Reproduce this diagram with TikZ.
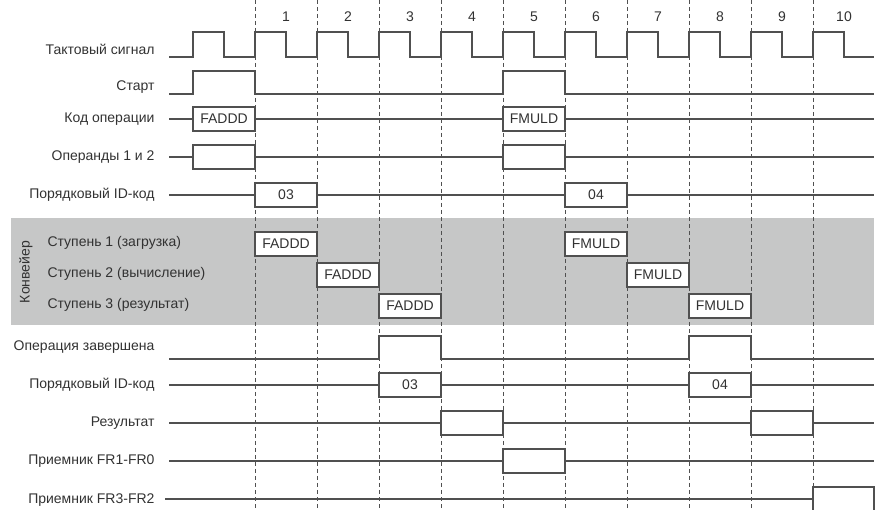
\documentclass[tikz,border=0pt]{standalone}
\usepackage{fontspec}
\setmainfont{Liberation Sans}
\usepackage{xcolor}
\usepackage{tikz}
\usetikzlibrary{positioning}
\definecolor{band}{RGB}{198,199,199}
\definecolor{wire}{RGB}{80,80,80}
\definecolor{txt}{RGB}{50,50,50}

\begin{document}
\begin{tikzpicture}[
    x=1pt, y=-1pt,
    every node/.style={font=\fontsize{14}{16}\selectfont, text=txt},
    sig/.style={draw=wire, line width=1.2pt},
    grid/.style={draw=wire, line width=0.8pt, dash pattern=on 4pt off 3pt},
    cell/.style={rectangle, draw=wire, line width=1.2pt, fill=white,
                 minimum width=62pt, minimum height=24pt, inner sep=0pt},
    lbl/.style={anchor=east},
    stage/.style={anchor=west}
]
    \useasboundingbox (0,0) rectangle (881,510);
    % conveyor band
    \fill[band] (11,218) rectangle (874,325);
    \node[rotate=90] (conv) at (26,272) {Конвейер};
    \node[stage] (st1) at (44,243) {Ступень 1 (загрузка)};
    \node[stage] (st2) at (44,274) {Ступень 2 (вычисление)};
    \node[stage] (st3) at (44,305) {Ступень 3 (результат)};

    % clock cycles
    \foreach \k in {1,...,10} {
        \draw[grid] ({255+62*(\k-1)},0) -- ({255+62*(\k-1)},510);
        \node (n\k) at ({286+62*(\k-1)},17) {\k};
    }

    % signal names
    \node[lbl] (clk) at (158,49) {Тактовый сигнал};
    \node[lbl] (start) at (158,87) {Старт};
    \node[lbl] (opc) at (158,119) {Код операции};
    \node[lbl] (opd) at (158,157) {Операнды 1 и 2};
    \node[lbl] (idin) at (158,195) {Порядковый ID-код};
    \node[lbl] (done) at (158,347) {Операция завершена};
    \node[lbl] (idout) at (158,385) {Порядковый ID-код};
    \node[lbl] (res) at (158,423) {Результат};
    \node[lbl] (fra) at (158,461) {Приемник FR1-FR0};
    \node[lbl] (frb) at (158,500) {Приемник FR3-FR2};

    % waveforms
    \draw[sig] (169,57) foreach \k in {0,...,10} {
        -- ({193+62*\k},57) -- ({193+62*\k},32) -- ({224+62*\k},32) -- ({224+62*\k},57)
    } -- (874,57);
    \draw[sig] (169,94) -- (193,94) -- (193,71) -- (255,71) -- (255,94)
        -- (503,94) -- (503,71) -- (565,71) -- (565,94) -- (874,94);
    \draw[sig] (169,359) -- (379,359) -- (379,336) -- (441,336) -- (441,359)
        -- (689,359) -- (689,336) -- (751,336) -- (751,359) -- (874,359);
    \foreach \y in {119,157,195,385,423,461} {
        \draw[sig] (169,\y) -- (874,\y);
    }
    \draw[sig] (165,499) -- (813,499);

    \node[cell] (opc1) at (224,119) {FADDD};
    \node[cell] (opc2) at (534,119) {FMULD};
    \node[cell] (opd1) at (224,157) {};
    \node[cell] (opd2) at (534,157) {};
    \node[cell] (idin1) at (286,195) {03};
    \node[cell] (idin2) at (596,195) {04};

    \node[cell] (s1a) at (286,244) {FADDD};
    \node[cell] (s2a) at (348,275) {FADDD};
    \node[cell] (s3a) at (410,306) {FADDD};
    \node[cell] (s1b) at (596,244) {FMULD};
    \node[cell] (s2b) at (658,275) {FMULD};
    \node[cell] (s3b) at (720,306) {FMULD};

    \node[cell] (idout1) at (410,385) {03};
    \node[cell] (idout2) at (720,385) {04};
    \node[cell] (res1) at (472,423) {};
    \node[cell] (res2) at (782,423) {};
    \node[cell] (fra1) at (534,461) {};
    \node[cell, minimum width=61pt] (frb1) at (843.5,499) {};
\end{tikzpicture}
\end{document}
